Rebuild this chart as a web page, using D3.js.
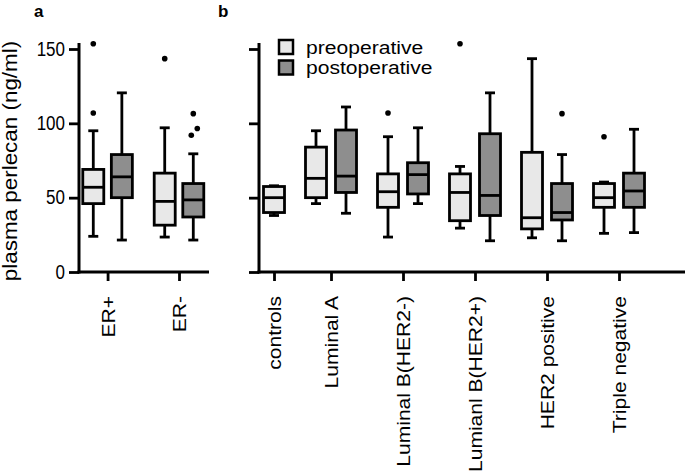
<!DOCTYPE html>
<html>
<head>
<meta charset="utf-8">
<script src="https://cdn.jsdelivr.net/npm/d3@7"></script>
<style>
  html, body { margin: 0; padding: 0; background: #fff; }
  svg { display: block; }
  text { font-family: "Liberation Sans", Arial, Helvetica, sans-serif; fill: #000; }
</style>
</head>
<body>
<svg id="chart" width="685" height="473"></svg>
<script>
// ---------------- data ----------------
const yTicks = [0, 50, 100, 150];
const yTitle = "plasma perlecan (ng/ml)";
const seriesNames = ["preoperative", "postoperative"];

// panel a : ER status, box stats [min, q1, median, q3, max]
const groupsA = ["ER+", "ER-"];
const preA = [[24, 46, 57, 69, 95], [23.5, 31.5, 47.5, 66.5, 97]];
const postA = [[21.5, 50, 64, 79, 120.5], [21.5, 37, 48.5, 59.5, 79.5]];
const preAOut = [[153.5, 107], [143.5]];
const postAOut = [[], [106.5, 96.5, 92]];

// panel b : subtypes
const groupsB = ["controls", "Luminal A", "Luminal B(HER2-)", "Lumianl B(HER2+)", "HER2 positive", "Triple negative"];
const preB = [[38, 40, 50, 57.5, 58], [46, 50, 63, 84, 95], [23.5, 43.5, 54, 66, 91],
              [29.5, 34.5, 53.5, 66, 71], [23, 29, 36.5, 80.5, 143.5], [26, 43.5, 50, 59.5, 60.5]];
const postB = [null, [39.5, 53.5, 64.5, 95.5, 111], [46, 52.5, 65.5, 73.5, 97],
               [21, 38, 51.5, 93, 120.5], [21, 35, 40, 59.5, 79], [26.5, 43.5, 54.5, 66.5, 96]];
const preBOut = [[], [], [107], [153.5], [], [91]];
const postBOut = [[], [], [], [], [106.5], []];

// ---------------- style ----------------
const fillPre = "#e8e8e8", fillPost = "#8e8e8e";
const SW = 2.8;
const boxW = 21, capW = 10;
const VS = 1.15; // vertical stretch of the lettering in the reference

const svg = d3.select("#chart");
svg.append("rect").attr("width", 685).attr("height", 473).attr("fill", "#fff");

const y = d3.scaleLinear().domain([0, 150]).range([272, 49]);

function layout(groups, pre, post, preOut, postOut, groupGap) {
  const boxes = [], centers = [];
  let slot = 0;
  groups.forEach((g, i) => {
    const start = slot;
    if (pre[i]) { boxes.push({ stats: pre[i], out: preOut[i], fill: fillPre, slot: slot }); slot += 1; }
    if (post[i]) { boxes.push({ stats: post[i], out: postOut[i], fill: fillPost, slot: slot }); slot += 1; }
    centers.push({ label: g, slot: (start + slot - 1) / 2 });
    slot += groupGap;
  });
  return { boxes, centers };
}

function drawBoxes(g, x, boxes) {
  boxes.forEach(b => {
    const cx = x(b.slot);
    const [mn, q1, md, q3, mx] = b.stats;
    const bg = g.append("g");
    bg.append("line").attr("x1", cx).attr("x2", cx).attr("y1", y(mx)).attr("y2", y(q3))
      .attr("stroke", "#000").attr("stroke-width", SW);
    bg.append("line").attr("x1", cx).attr("x2", cx).attr("y1", y(q1)).attr("y2", y(mn))
      .attr("stroke", "#000").attr("stroke-width", SW);
    [mn, mx].forEach(v => bg.append("line").attr("x1", cx - capW / 2).attr("x2", cx + capW / 2)
      .attr("y1", y(v)).attr("y2", y(v)).attr("stroke", "#000").attr("stroke-width", SW));
    bg.append("rect").attr("x", cx - boxW / 2).attr("width", boxW)
      .attr("y", y(q3)).attr("height", y(q1) - y(q3))
      .attr("fill", b.fill).attr("stroke", "#000").attr("stroke-width", SW);
    bg.append("line").attr("x1", cx - boxW / 2).attr("x2", cx + boxW / 2)
      .attr("y1", y(md)).attr("y2", y(md)).attr("stroke", "#000").attr("stroke-width", SW);
    const sorted = b.out.slice().sort((a, c) => c - a);
    sorted.forEach((v, i) => {
      let dx = 0;
      if (i === 1 && Math.abs(sorted[0] - v) < 12) dx = 4;
      if (i === 2 && Math.abs(sorted[1] - v) < 6) dx = -2;
      bg.append("circle").attr("cx", cx + dx).attr("cy", y(v)).attr("r", 2.8).attr("fill", "#000");
    });
  });
}

function drawAxes(g, x, centers, x0, x1, showYLabels) {
  const yAx = d3.axisLeft(y).tickValues(yTicks).tickSize(10).tickSizeOuter(0).tickPadding(4)
    .tickFormat(showYLabels ? d3.format("d") : () => "");
  const ya = g.append("g").attr("transform", `translate(${x0},0)`).call(yAx);
  ya.select(".domain").remove();
  ya.selectAll(".tick line").attr("stroke-width", SW);
  ya.selectAll("text").style("font-size", "17px").attr("fill", "#000")
    .attr("transform", `scale(1,${VS})`);
  g.append("line").attr("x1", x0).attr("x2", x0).attr("y1", y(0) + 1.5).attr("y2", y(150) - 6)
    .attr("stroke", "#000").attr("stroke-width", 3);

  const xAx = d3.axisBottom(x).tickValues(centers.map(c => c.slot)).tickSize(9).tickSizeOuter(0)
    .tickFormat((d, i) => centers[i].label);
  const xa = g.append("g").attr("transform", `translate(0,${y(0)})`).call(xAx);
  xa.select(".domain").remove();
  xa.selectAll(".tick line").attr("stroke-width", SW);
  xa.selectAll("text").style("font-size", "18px").attr("fill", "#000")
    .attr("transform", `scale(1,1.17) rotate(-90)`).attr("text-anchor", "end")
    .attr("x", -20.5).attr("y", 0).attr("dy", "0.36em");
  g.append("line").attr("x1", x0 - 1.5).attr("x2", x1).attr("y1", y(0)).attr("y2", y(0))
    .attr("stroke", "#000").attr("stroke-width", 3);
}

// ---- panel a ----
const LA = layout(groupsA, preA, postA, preAOut, postAOut, 0.5);
const xA = d3.scaleLinear().domain([-0.5, 4.05]).range([79, 209]);
const gA = svg.append("g");
drawAxes(gA, xA, LA.centers, 79, 209, true);
drawBoxes(gA, xA, LA.boxes);

// ---- panel b ----
const LB = layout(groupsB, preB, postB, preBOut, postBOut, 0.4);
const xB = d3.scaleLinear().domain([-0.5, 13.7]).range([259, 685]);
const gB = svg.append("g");
drawAxes(gB, xB, LB.centers, 259, 685, false);
drawBoxes(gB, xB, LB.boxes);

// ---- y title ----
svg.append("text").attr("transform", `translate(16.5,${(y(0) + y(150)) / 2 + 0.5}) scale(1,${VS}) rotate(-90)`)
  .attr("text-anchor", "middle").style("font-size", "19.5px").text(yTitle);

// ---- panel letters ----
svg.append("text").attr("x", 34).attr("y", 16.5).style("font-size", "17px").style("font-weight", "bold").text("a");
svg.append("text").attr("x", 218).attr("y", 16.5).style("font-size", "17px").style("font-weight", "bold").text("b");

// ---- legend ----
const leg = svg.append("g").attr("transform", "translate(279,40)");
seriesNames.forEach((s, i) => {
  const row = leg.append("g").attr("transform", `translate(0,${i * 20.5})`);
  row.append("rect").attr("width", 14).attr("height", 14)
    .attr("fill", i === 0 ? fillPre : fillPost).attr("stroke", "#000").attr("stroke-width", 2.5);
  row.append("text").attr("transform", `translate(27,13.5) scale(1.14,1)`).style("font-size", "18.5px").text(s);
});
</script>
</body>
</html>
